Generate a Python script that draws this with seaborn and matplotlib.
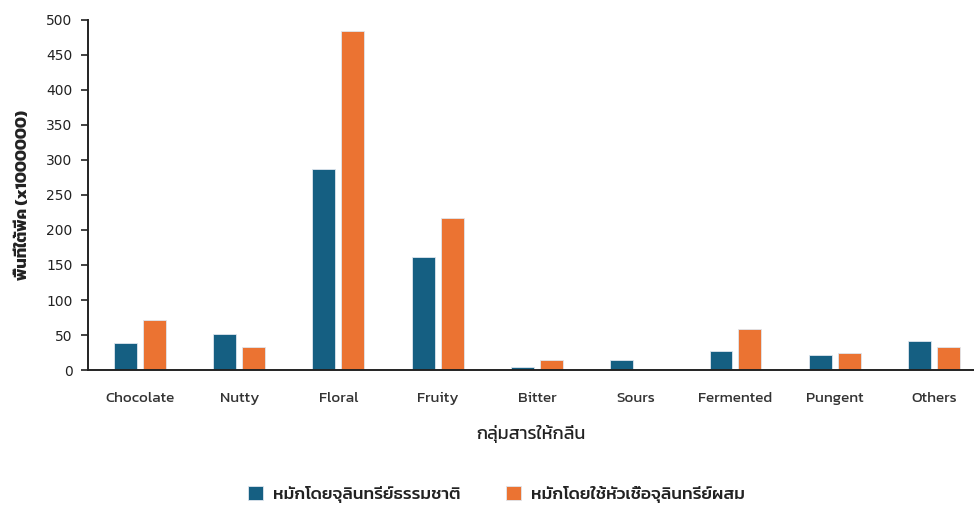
import matplotlib
matplotlib.use("Agg")
import matplotlib.pyplot as plt
from matplotlib import font_manager
from matplotlib.ft2font import FT2Font
import seaborn as sns
import pandas as pd

# Aroma groups and peak areas (x1,000,000)
categories = ["Chocolate", "Nutty", "Floral", "Fruity", "Bitter",
              "Sours", "Fermented", "Pungent", "Others"]
natural = [39, 51, 287, 161, 5, 14, 27, 21, 41]
mixed_starter = [71, 33, 484, 217, 14, 0, 59, 24, 33]
series_names = ["หมักโดยจุลินทรีย์ธรรมชาติ", "หมักโดยใช้หัวเชื้อจุลินทรีย์ผสม"]
y_ticks = list(range(0, 501, 50))

palette = ["#155F82", "#EB7332"]


def find_thai_font():
    """Return the family name of an installed font that has Thai glyphs."""
    preferred = []
    others = []
    for path in font_manager.findSystemFonts():
        try:
            cmap = FT2Font(path).get_charmap()
        except Exception:
            continue
        if all(ord(c) in cmap for c in "กมหัิ์"):
            try:
                name = font_manager.FontProperties(fname=path).get_name()
            except Exception:
                continue
            if "Thai" in name or "Sarabun" in name or "Kanit" in name:
                preferred.append(name)
            else:
                others.append(name)
    found = preferred + others
    return found[0] if found else None


sns.set_theme(style="white")
thai = find_thai_font()
families = ([thai] if thai else []) + ["DejaVu Sans"]
plt.rcParams["font.family"] = families

df = pd.DataFrame({
    "group": categories * 2,
    "value": natural + mixed_starter,
    "series": [series_names[0]] * len(categories) + [series_names[1]] * len(categories),
})

fig = plt.figure(figsize=(9.74, 5.07), dpi=100)
ax = fig.add_axes([0.0903, 0.2702, 0.9097, 0.6904])

sns.barplot(data=df, x="group", y="value", hue="series", order=categories,
            hue_order=series_names, palette=palette, width=0.584, gap=0.207,
            saturation=1, edgecolor="#dfe6ee", linewidth=0.6, ax=ax)

ax.set_xlim(-0.524, 8.403)
ax.set_ylim(0, 500)
ax.set_yticks(y_ticks)
ax.set_yticklabels([str(t) for t in y_ticks], fontfamily="DejaVu Sans",
                   fontsize=10, color="#222222")
ax.tick_params(axis="y", which="major", left=True, length=5, width=1.2,
               color="#222222", direction="out", pad=6)
ax.tick_params(axis="x", bottom=False, labelsize=11, labelcolor="#333333", pad=10)

for side in ["top", "right"]:
    ax.spines[side].set_visible(False)
for side in ["left", "bottom"]:
    ax.spines[side].set_color("#222222")
    ax.spines[side].set_linewidth(1.4)

ax.set_xlabel("กลุ่มสารให้กลิ่น", fontsize=13, color="#222222", labelpad=14)
ax.set_ylabel("พื้นที่ใต้พีค (x1000000)", fontsize=12, color="#222222",
              fontweight="bold", labelpad=12)

handles, labels = ax.get_legend_handles_labels()
leg = ax.legend(handles, labels, loc="center", bbox_to_anchor=(0.51, 0.024),
                bbox_transform=fig.transFigure, ncol=2, frameon=False,
                fontsize=12.5, handlelength=0.85, handleheight=0.85,
                columnspacing=2.6, handletextpad=0.6)
for t in leg.get_texts():
    t.set_fontweight("medium")
    t.set_color("#222222")

fig.savefig("out.png", dpi=100)
